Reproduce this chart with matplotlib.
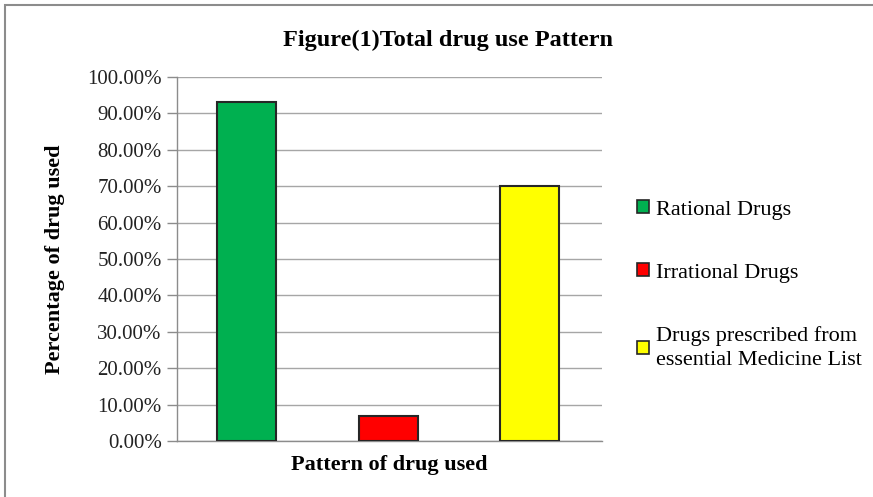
import matplotlib.pyplot as plt
from matplotlib.patches import Rectangle, Patch
from matplotlib.ticker import FuncFormatter

# datos
series = ['Rational Drugs', 'Irrational Drugs',
          'Drugs prescribed from\nessential Medicine List']
values = [93.1, 6.9, 70.0]
colors = ['#00B050', '#FF0000', '#FFFF00']
yticks = [0, 10, 20, 30, 40, 50, 60, 70, 80, 90, 100]

plt.rcParams['font.family'] = ['Liberation Serif', 'DejaVu Serif']

fig = plt.figure(figsize=(8.73, 4.97), dpi=100)
fig.patches.append(Rectangle((5 / 873, -0.1), 1.2, 1 - 5 / 497 + 0.1,
                             transform=fig.transFigure, fill=False,
                             edgecolor='#8c8c8c', linewidth=1.5))

ax = fig.add_axes([177 / 873, 1 - 441 / 497, 425 / 873, 364 / 497])
x = list(range(len(values)))
ax.bar(x, values, width=0.417, color=colors, edgecolor='#262626',
       linewidth=1.5, zorder=3)

ax.set_xlim(-0.49, 2.51)
ax.set_ylim(0, 100)
ax.set_yticks(yticks)
ax.yaxis.set_major_formatter(FuncFormatter(lambda v, p: f'{v:.2f}%'))
ax.set_xticks([])
ax.tick_params(axis='y', labelsize=15, length=7, color='#8c8c8c',
               width=1, pad=4, labelcolor='#222222')
ax.grid(axis='y', color='#a6a6a6', linewidth=1, zorder=0)
for s in ['top', 'right']:
    ax.spines[s].set_visible(False)
for s in ['left', 'bottom']:
    ax.spines[s].set_color('#8c8c8c')
    ax.spines[s].set_linewidth(1)

ax.set_ylabel('Percentage of drug used', fontsize=16, fontweight='bold',
              labelpad=16)
ax.set_xlabel('Pattern of drug used', fontsize=16, fontweight='bold',
              labelpad=10)
fig.text(448 / 873, 1 - 40 / 497, 'Figure(1)Total drug use Pattern',
         fontsize=17.5, fontweight='bold', ha='center', va='center')

handles = [Patch(facecolor=c, edgecolor='#262626', linewidth=1.2)
           for c in colors]
leg = fig.legend(handles, series, loc='upper left',
                 bbox_to_anchor=(626 / 873, 1 - 189 / 497), frameon=False,
                 fontsize=16, handlelength=0.55, handleheight=0.55,
                 handletextpad=0.3, labelspacing=1.95, borderpad=0)
leg.get_texts()[2].set_linespacing(1.4)

fig.savefig('out.png', dpi=100)
